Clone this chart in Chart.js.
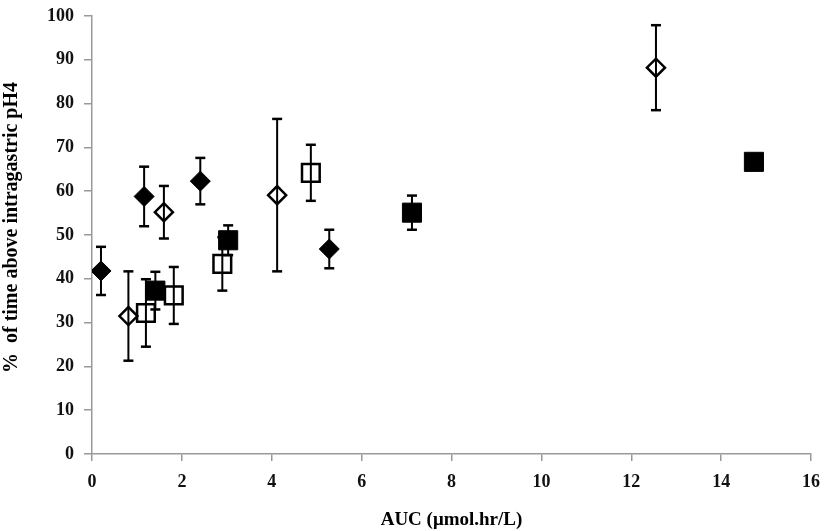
<!DOCTYPE html>
<html>
<head>
<meta charset="utf-8">
<script src="https://cdn.jsdelivr.net/npm/chart.js@4.4.1/dist/chart.umd.min.js"></script>
<style>
  html, body { margin: 0; padding: 0; background: #fff; }
  #wrap { width: 826px; height: 531px; position: relative; }
</style>
</head>
<body>
<div id="wrap"><canvas id="chart"></canvas></div>
<script>
// values (AUC, % time above pH4, +/- error)
const filledDiamondX = [0.2, 1.16, 2.41, 5.28];
const filledDiamondY = [41.8, 58.8, 62.3, 46.8];
const filledDiamondErr = [5.5, 6.8, 5.3, 4.4];

const openDiamondX = [0.81, 1.6, 4.12, 12.55];
const openDiamondY = [31.5, 55.2, 59.1, 88.2];
const openDiamondErr = [10.2, 6.0, 17.4, 9.7];

const openSquareX = [1.2, 1.82, 2.9, 4.87];
const openSquareY = [32.2, 36.2, 43.4, 64.2];
const openSquareErr = [7.7, 6.5, 6.1, 6.4];

const filledSquareX = [1.41, 3.03, 7.12, 14.73];
const filledSquareY = [37.3, 48.8, 55.1, 66.7];
const filledSquareErr = [4.3, 3.4, 3.9, 1.5];

const xTicks = [0, 2, 4, 6, 8, 10, 12, 14, 16];
const yTicks = [0, 10, 20, 30, 40, 50, 60, 70, 80, 90, 100];

const xTitle = 'AUC (μmol.hr/L)';
const yTitle = '   %  of time above intragastric pH4';

function points(xs, ys) {
    return xs.map((x, i) => ({ x: x, y: ys[i] }));
}

// each error bar: low point, high point, then a gap
function errorPoints(xs, ys, errs) {
    const out = [];
    xs.forEach((x, i) => {
        out.push({ x: x, y: ys[i] - errs[i] });
        out.push({ x: x, y: ys[i] + errs[i] });
        out.push({ x: x, y: null });
    });
    return out;
}

function errorSet(xs, ys, errs) {
    return {
        type: 'line',
        data: errorPoints(xs, ys, errs),
        borderColor: '#000',
        borderWidth: 2,
        spanGaps: false,
        pointStyle: 'line',
        pointRadius: 5,
        pointBorderWidth: 2.5,
        pointBorderColor: '#000',
        pointBackgroundColor: '#000',
        fill: false
    };
}

const serif = "'Liberation Serif', 'DejaVu Serif', serif";

const ctx = document.getElementById('chart').getContext('2d');
new Chart(ctx, {
    type: 'scatter',
    data: {
        datasets: [
            {
                data: points(filledSquareX, filledSquareY),
                pointStyle: 'rect',
                pointRadius: 13.5,
                pointBorderWidth: 1,
                pointBackgroundColor: '#000',
                pointBorderColor: '#000'
            },
            {
                data: points(filledDiamondX, filledDiamondY),
                pointStyle: 'rectRot',
                pointRadius: 10,
                pointBorderWidth: 1,
                pointBackgroundColor: '#000',
                pointBorderColor: '#000'
            },
            {
                data: points(openSquareX, openSquareY),
                pointStyle: 'rect',
                pointRadius: 12.5,
                pointBorderWidth: 2.5,
                pointBackgroundColor: 'rgba(255,255,255,0)',
                pointBorderColor: '#000'
            },
            {
                data: points(openDiamondX, openDiamondY),
                pointStyle: 'rectRot',
                pointRadius: 9,
                pointBorderWidth: 2.5,
                pointBackgroundColor: 'rgba(255,255,255,0)',
                pointBorderColor: '#000'
            },
            errorSet(filledSquareX, filledSquareY, filledSquareErr),
            errorSet(filledDiamondX, filledDiamondY, filledDiamondErr),
            errorSet(openSquareX, openSquareY, openSquareErr),
            errorSet(openDiamondX, openDiamondY, openDiamondErr)
        ]
    },
    options: {
        responsive: true,
        maintainAspectRatio: false,
        animation: false,
        devicePixelRatio: 1,
        layout: { padding: { left: 0, right: 13, top: 16, bottom: 0 } },
        plugins: {
            legend: { display: false },
            tooltip: { enabled: false }
        },
        scales: {
            x: {
                type: 'linear',
                min: xTicks[0],
                max: xTicks[xTicks.length - 1],
                afterBuildTicks: axis => { axis.ticks = xTicks.map(v => ({ value: v })); },
                afterFit: axis => {
                    axis.height = 77;
                    axis.paddingLeft = 0;
                    axis.paddingRight = 0;
                },
                border: { display: true, color: '#999', width: 1.5 },
                grid: { display: true, drawOnChartArea: false, drawTicks: true, tickLength: 7, color: '#999', lineWidth: 1.5 },
                ticks: { color: '#111', padding: 11, font: { family: serif, size: 18, weight: 'bold' } },
                title: {
                    display: true,
                    text: xTitle,
                    color: '#000',
                    padding: { top: 4, bottom: 0 },
                    font: { family: serif, size: 19, weight: 'bold' }
                }
            },
            y: {
                type: 'linear',
                min: yTicks[0],
                max: yTicks[yTicks.length - 1],
                afterBuildTicks: axis => { axis.ticks = yTicks.map(v => ({ value: v })); },
                afterFit: axis => {
                    axis.width = 92;
                    axis.paddingTop = 0;
                    axis.paddingBottom = 0;
                },
                border: { display: true, color: '#999', width: 1.5 },
                grid: { display: true, drawOnChartArea: false, drawTicks: true, tickLength: 8, color: '#999', lineWidth: 1.5 },
                ticks: { color: '#111', padding: 10, font: { family: serif, size: 18, weight: 'bold' } },
                title: {
                    display: true,
                    text: yTitle,
                    color: '#000',
                    padding: { top: 0, bottom: 2 },
                    font: { family: serif, size: 20, weight: 'bold' }
                }
            }
        }
    }
});
</script>
</body>
</html>
